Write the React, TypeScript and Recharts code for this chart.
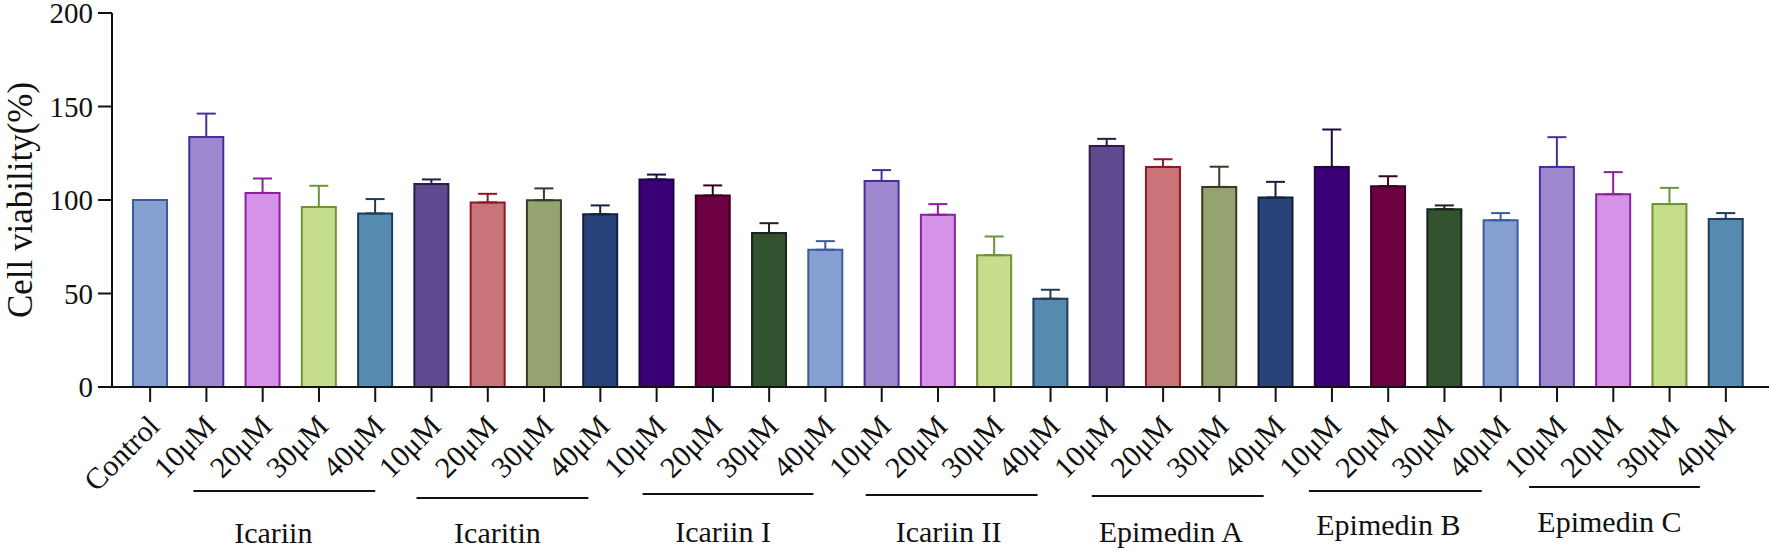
import { BarChart, Bar, XAxis, YAxis, Cell, ErrorBar } from 'recharts';

const groups = ['Icariin', 'Icaritin', 'Icariin I', 'Icariin II', 'Epimedin A', 'Epimedin B', 'Epimedin C'];
const doses = ['10μM', '20μM', '30μM', '40μM'];
const controlViability = 100;

// mean cell viability (%) per group, 10 → 40 μM
const viability = [
  [133.7, 103.8, 96.3, 92.8],
  [108.5, 98.7, 99.9, 92.4],
  [111.0, 102.4, 82.3, 73.4],
  [110.2, 92.1, 70.5, 47.2],
  [128.9, 117.7, 107.0, 101.3],
  [117.7, 107.4, 95.1, 89.2],
  [117.7, 103.1, 97.8, 89.9],
];

// upper error (SD)
const sd = [
  [12.5, 7.7, 11.3, 7.7],
  [2.5, 4.6, 6.3, 4.7],
  [2.6, 5.4, 5.3, 4.6],
  [5.8, 5.7, 10.0, 4.8],
  [3.8, 4.1, 10.8, 8.4],
  [20.0, 5.3, 2.0, 3.8],
  [15.9, 11.8, 8.7, 3.1],
];

const yTicks = [0, 50, 100, 150, 200];

const palette = [
  { fill: '#86A0D1', stroke: '#3C5AA0' },
  { fill: '#9E89CF', stroke: '#4A2E98' },
  { fill: '#D493E8', stroke: '#8C209C' },
  { fill: '#C6DE8B', stroke: '#6D9536' },
  { fill: '#568AAE', stroke: '#1F3C5A' },
  { fill: '#604A8F', stroke: '#2A1D4A' },
  { fill: '#C87479', stroke: '#8B1A24' },
  { fill: '#94A370', stroke: '#343C26' },
  { fill: '#29437A', stroke: '#141F3A' },
  { fill: '#3B0078', stroke: '#1E0840' },
  { fill: '#6C0040', stroke: '#3A0020' },
  { fill: '#335230', stroke: '#17251A' },
];

// underline / group-name nudges (px, relative to ticks and x axis)
const groupLayout = [
  { lineFrom: -13, lineTo: 0, lineY: 104, labelDx: -11, labelY: 156 },
  { lineFrom: -15, lineTo: -12, lineY: 111, labelDx: -5, labelY: 156 },
  { lineFrom: -14, lineTo: -12, lineY: 107, labelDx: -5, labelY: 155 },
  { lineFrom: -16, lineTo: -13, lineY: 108, labelDx: -3, labelY: 155 },
  { lineFrom: -15, lineTo: -12, lineY: 109, labelDx: -7, labelY: 155 },
  { lineFrom: -23, lineTo: -19, lineY: 104, labelDx: -7, labelY: 148 },
  { lineFrom: -28, lineTo: -26, lineY: 100, labelDx: -5, labelY: 145 },
];

const FONT = "'Times New Roman', 'Liberation Serif', serif";
const TICK_LEN = 15;

type Row = {
  id: string;
  label: string;
  group: number;
  pos: number;
  value: number;
  color: number;
  [key: string]: any;
};

const rows: Row[] = [
  { id: 'control', label: 'Control', group: -1, pos: -1, value: controlViability, color: 0 },
];
groups.forEach((g, gi) => {
  doses.forEach((d, di) => {
    const color = rows.length % palette.length;
    rows.push({
      id: `${g}-${d}`,
      label: d,
      group: gi,
      pos: di,
      value: viability[gi][di],
      color,
      [`err${color}`]: [0, sd[gi][di]],
    });
  });
});

const firstTickX: Record<number, number> = {};

function DoseTick(props: any) {
  const { x, y, payload } = props;
  const row = rows.find((r) => r.id === payload.value);
  if (!row) return null;
  const axisY = y - TICK_LEN;
  let extra = null;
  if (row.pos === 0) firstTickX[row.group] = x;
  if (row.pos === 3 && firstTickX[row.group] != null) {
    const lay = groupLayout[row.group];
    const x1 = firstTickX[row.group] + lay.lineFrom;
    const x2 = x + lay.lineTo;
    extra = (
      <g>
        <line x1={x1} x2={x2} y1={axisY + lay.lineY} y2={axisY + lay.lineY} stroke="#111" strokeWidth={2} />
        <text
          x={(x1 + x2) / 2 + lay.labelDx}
          y={axisY + lay.labelY}
          textAnchor="middle"
          fontFamily={FONT}
          fontSize={30}
          fill="#111"
        >
          {groups[row.group]}
        </text>
      </g>
    );
  }
  return (
    <g>
      <text
        transform={`translate(${x + 11},${axisY + 41}) rotate(-45)`}
        textAnchor="end"
        fontFamily={FONT}
        fontSize={30}
        fill="#111"
      >
        {row.label}
      </text>
      {extra}
    </g>
  );
}

export default function App() {
  return (
    <div style={{ position: 'absolute', left: 0, top: 0, background: '#fff' }}>
      <BarChart
        width={1772}
        height={551}
        data={rows}
        margin={{ top: 13, right: 3, bottom: 0, left: 0 }}
        barSize={34}
      >
        <XAxis
          dataKey="id"
          interval={0}
          height={164}
          padding={{ left: 10, right: 15 }}
          axisLine={{ stroke: '#111', strokeWidth: 2 }}
          tickLine={{ stroke: '#111', strokeWidth: 2 }}
          tickSize={TICK_LEN}
          tickMargin={0}
          tick={<DoseTick />}
        />
        <YAxis
          width={112}
          domain={[0, 200]}
          ticks={yTicks}
          interval={0}
          tickSize={14}
          tickMargin={5}
          axisLine={{ stroke: '#111', strokeWidth: 2 }}
          tickLine={{ stroke: '#111', strokeWidth: 2 }}
          tick={{ fontFamily: FONT, fontSize: 29, fill: '#111' }}
          label={{
            value: 'Cell viability(%)',
            angle: -90,
            position: 'insideLeft',
            offset: 20,
            style: { textAnchor: 'middle', fontFamily: FONT, fontSize: 35, fill: '#111' },
          }}
        />
        <Bar dataKey="value" strokeWidth={2} isAnimationActive={false}>
          {rows.map((r) => (
            <Cell key={r.id} fill={palette[r.color].fill} stroke={palette[r.color].stroke} />
          ))}
          {palette.map((p, k) => (
            <ErrorBar
              key={k}
              dataKey={`err${k}`}
              direction="y"
              width={9.5}
              stroke={p.stroke}
              strokeWidth={2}
              isAnimationActive={false}
            />
          ))}
        </Bar>
      </BarChart>
    </div>
  );
}
